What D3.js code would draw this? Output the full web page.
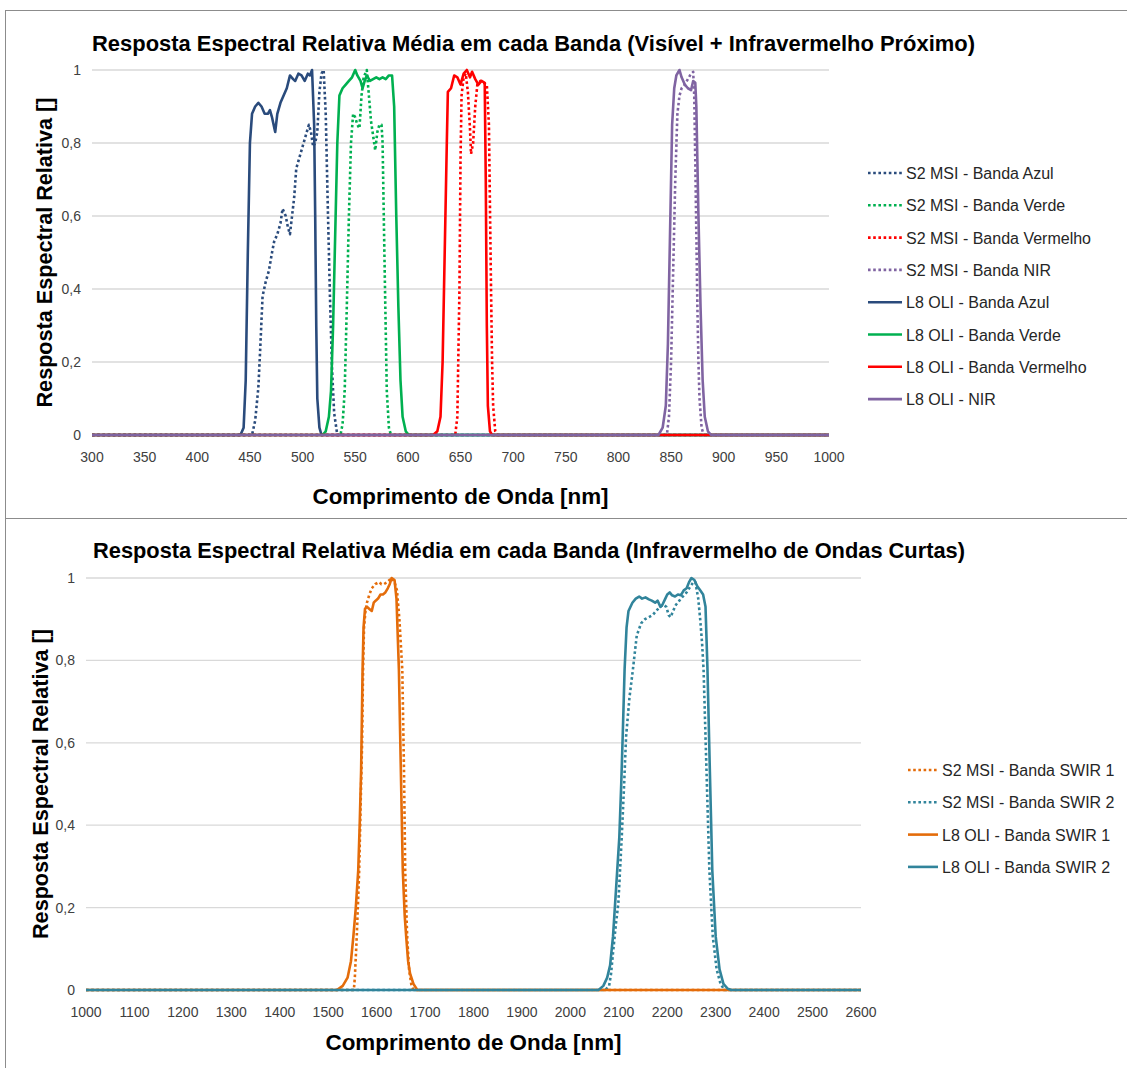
<!DOCTYPE html>
<html>
<head>
<meta charset="utf-8">
<script src="https://cdn.jsdelivr.net/npm/d3@7"></script>
<style>
body { margin: 0; background: #fff; }
text { font-family: "Liberation Sans", Arial, sans-serif; }
</style>
</head>
<body>
<div id="chart-area"></div>
<script>
/*
*    espectro.js - resposta espectral S2 MSI x L8 OLI
*/

// ---- dados: visivel + NIR (nm, resposta)
var s2Azul = [[300,0],[452,0],[455,0.04],[458,0.13],[460,0.25],[462,0.38],[465,0.42],[468,0.45],[471,0.5],[473,0.53],[476,0.55],[479,0.58],[481,0.62],[484,0.6],[486,0.57],[488,0.55],[490,0.6],[492,0.65],[494,0.73],[497,0.76],[500,0.79],[503,0.82],[506,0.85],[508,0.83],[510,0.79],[512,0.8],[514,0.83],[516,0.94],[518,0.99],[520,1.0],[522,0.88],[524,0.62],[526,0.38],[528,0.18],[530,0.06],[533,0],[1000,0]];
var s2Verde = [[300,0],[536,0],[538,0.03],[540,0.12],[542,0.35],[544,0.6],[546,0.8],[548,0.88],[550,0.87],[552,0.85],[554,0.84],[556,0.93],[558,0.98],[561,1.0],[563,0.93],[565,0.86],[567,0.82],[569,0.78],[571,0.83],[573,0.85],[575,0.85],[576,0.8],[578,0.45],[580,0.12],[582,0.02],[584,0],[1000,0]];
var s2Vermelho = [[300,0],[645,0],[647,0.05],[649,0.4],[650,0.75],[651,0.93],[653,0.98],[655,0.99],[657,0.94],[659,0.84],[660,0.77],[662,0.8],[664,0.9],[666,0.96],[669,0.97],[672,0.965],[675,0.96],[677,0.85],[678,0.62],[679,0.4],[680,0.2],[681,0.08],[683,0.01],[685,0],[1000,0]];
var s2Nir = [[300,0],[846,0],[848,0.05],[850,0.2],[852,0.45],[854,0.7],[856,0.88],[858,0.93],[860,0.95],[863,0.96],[865,0.97],[868,0.985],[871,0.995],[872,0.93],[873,0.75],[874,0.55],[875,0.35],[876,0.2],[877,0.1],[879,0.02],[881,0],[1000,0]];
var l8Azul = [[300,0],[441,0],[444,0.02],[446,0.15],[448,0.5],[450,0.8],[452,0.88],[455,0.9],[458,0.91],[461,0.9],[464,0.88],[467,0.88],[469,0.89],[471,0.87],[474,0.83],[476,0.88],[479,0.91],[482,0.93],[485,0.95],[488,0.985],[491,0.975],[493,0.97],[496,0.99],[499,0.985],[502,0.97],[505,0.99],[507,0.985],[509,1.0],[511,0.85],[512,0.6],[513,0.3],[514,0.1],[516,0.02],[518,0],[1000,0]];
var l8Verde = [[300,0],[519,0],[522,0.01],[525,0.05],[527,0.12],[529,0.3],[531,0.55],[533,0.8],[535,0.93],[538,0.95],[541,0.96],[544,0.97],[547,0.98],[550,1.0],[552,0.985],[555,0.97],[557,0.95],[559,0.97],[561,0.985],[564,0.97],[567,0.975],[570,0.98],[573,0.975],[576,0.98],[579,0.975],[582,0.985],[585,0.985],[587,0.9],[589,0.6],[591,0.35],[593,0.15],[595,0.05],[598,0.01],[601,0],[1000,0]];
var l8Vermelho = [[300,0],[624,0],[628,0.01],[631,0.05],[633,0.2],[635,0.5],[637,0.8],[638,0.94],[641,0.95],[644,0.985],[647,0.98],[650,0.96],[653,0.99],[656,1.0],[659,0.98],[661,0.995],[664,0.975],[667,0.96],[670,0.97],[673,0.965],[674,0.7],[675,0.3],[676,0.08],[678,0.01],[680,0],[1000,0]];
var l8Nir = [[300,0],[838,0],[842,0.02],[845,0.08],[847,0.25],[849,0.55],[851,0.85],[853,0.95],[855,0.985],[858,1.0],[860,0.98],[863,0.96],[866,0.95],[869,0.945],[871,0.97],[873,0.965],[874,0.9],[876,0.6],[878,0.35],[880,0.15],[882,0.05],[885,0.01],[888,0],[1000,0]];

// ---- dados: SWIR
var s2Swir1 = [[1000,0],[1553,0],[1555,0.03],[1559,0.13],[1564,0.29],[1567,0.45],[1570,0.6],[1572,0.777],[1574,0.88],[1577,0.92],[1580,0.94],[1585,0.96],[1590,0.975],[1597,0.985],[1605,0.99],[1610,0.985],[1615,0.985],[1622,0.99],[1631,1.0],[1637,0.99],[1642,0.97],[1647,0.9],[1653,0.777],[1656.5,0.534],[1659,0.29],[1663,0.13],[1667,0.05],[1672,0.01],[1676,0],[2600,0]];
var s2Swir2 = [[1000,0],[2072,0],[2080,0.01],[2084,0.04],[2088,0.09],[2094,0.16],[2099,0.21],[2106,0.37],[2111,0.5],[2115,0.615],[2122,0.71],[2129,0.777],[2137,0.86],[2146,0.89],[2154,0.9],[2162,0.905],[2170,0.91],[2177,0.92],[2185,0.93],[2192,0.935],[2198,0.93],[2203,0.91],[2207,0.905],[2212,0.92],[2218,0.935],[2225,0.945],[2232,0.955],[2240,0.965],[2248,0.98],[2254,0.99],[2258,0.99],[2264,0.95],[2268,0.9],[2272,0.84],[2275,0.777],[2281,0.534],[2287,0.29],[2294,0.13],[2302,0.05],[2310,0.015],[2318,0],[2600,0]];
var l8Swir1 = [[1000,0],[1518,0],[1530,0.01],[1540,0.03],[1547,0.07],[1552,0.13],[1557,0.2],[1562,0.29],[1565,0.4],[1568,0.534],[1571,0.777],[1573,0.88],[1576,0.925],[1580,0.93],[1585,0.925],[1590,0.92],[1594,0.94],[1598,0.945],[1603,0.95],[1608,0.96],[1613,0.96],[1618,0.965],[1623,0.975],[1627,0.985],[1631,1.0],[1637,0.995],[1641,0.95],[1643,0.88],[1646,0.777],[1650,0.534],[1654,0.29],[1658,0.18],[1661,0.13],[1665,0.07],[1669,0.04],[1676,0.015],[1684,0],[2600,0]];
var l8Swir2 = [[1000,0],[2058,0],[2068,0.01],[2076,0.03],[2082,0.06],[2088,0.13],[2094,0.24],[2101,0.37],[2105,0.5],[2108,0.615],[2112,0.78],[2116,0.88],[2120,0.92],[2128,0.94],[2135,0.95],[2142,0.955],[2148,0.95],[2155,0.953],[2162,0.948],[2168,0.945],[2175,0.94],[2180,0.945],[2186,0.93],[2190,0.935],[2196,0.95],[2200,0.96],[2205,0.965],[2210,0.958],[2216,0.955],[2222,0.96],[2228,0.958],[2234,0.97],[2240,0.975],[2245,0.99],[2250,1.0],[2256,0.995],[2262,0.98],[2268,0.97],[2274,0.96],[2279,0.93],[2283,0.78],[2288,0.53],[2293,0.29],[2300,0.13],[2308,0.05],[2316,0.015],[2325,0.003],[2332,0],[2600,0]];

// ---- eixos e rotulos
var visTicks = [300,350,400,450,500,550,600,650,700,750,800,850,900,950,1000];
var swirTicks = [1000,1100,1200,1300,1400,1500,1600,1700,1800,1900,2000,2100,2200,2300,2400,2500,2600];
var yTicks = [0, 0.2, 0.4, 0.6, 0.8, 1];
var yTickLabels = ["0", "0,2", "0,4", "0,6", "0,8", "1"];

var visNames = ["S2 MSI - Banda Azul", "S2 MSI - Banda Verde", "S2 MSI - Banda Vermelho", "S2 MSI - Banda NIR",
	"L8 OLI - Banda Azul", "L8 OLI - Banda Verde", "L8 OLI - Banda Vermelho", "L8 OLI - NIR"];
var swirNames = ["S2 MSI - Banda SWIR 1", "S2 MSI - Banda SWIR 2", "L8 OLI - Banda SWIR 1", "L8 OLI - Banda SWIR 2"];

var visTitle = "Resposta Espectral Relativa Média em cada Banda (Visível + Infravermelho Próximo)";
var swirTitle = "Resposta Espectral Relativa Média em cada Banda (Infravermelho de Ondas Curtas)";
var xTitle = "Comprimento de Onda [nm]";
var yTitle = "Resposta Espectral Relativa []";

var azul = "#2a4b7c", verde = "#00b050", vermelho = "#ff0000", roxo = "#8064a2";
var laranja = "#e46c0a", petroleo = "#31849b";

var svg = d3.select("#chart-area").append("svg").attr("width", 1127).attr("height", 1068);

// molduras
svg.append("rect").attr("x", 5.5).attr("y", 10.5).attr("width", 1130).attr("height", 508)
	.attr("fill", "none").attr("stroke", "#8c8c8c");
svg.append("rect").attr("x", 5.5).attr("y", 518.5).attr("width", 1130).attr("height", 560)
	.attr("fill", "none").attr("stroke", "#8c8c8c");

drawPanel({
	left: 92, right: 829, top: 70, bottom: 435,
	domain: [300, 1000], ticks: visTicks,
	title: visTitle, titleX: 92, titleY: 51, titleLen: 883,
	yTitleX: 52, xTitleY: 504, tickLabelY: 462, yLabelX: 81,
	series: [
		{ data: s2Azul, color: azul, dotted: true },
		{ data: s2Verde, color: verde, dotted: true },
		{ data: s2Vermelho, color: vermelho, dotted: true },
		{ data: s2Nir, color: roxo, dotted: true },
		{ data: l8Azul, color: azul, dotted: false },
		{ data: l8Verde, color: verde, dotted: false },
		{ data: l8Vermelho, color: vermelho, dotted: false },
		{ data: l8Nir, color: roxo, dotted: false }
	],
	names: visNames, legX: 868, legLine: 34, legY: 173
});

drawPanel({
	left: 86, right: 861, top: 578, bottom: 990,
	domain: [1000, 2600], ticks: swirTicks,
	title: swirTitle, titleX: 93, titleY: 558, titleLen: 872,
	yTitleX: 48, xTitleY: 1050, tickLabelY: 1017, yLabelX: 75,
	series: [
		{ data: s2Swir1, color: laranja, dotted: true },
		{ data: s2Swir2, color: petroleo, dotted: true },
		{ data: l8Swir1, color: laranja, dotted: false },
		{ data: l8Swir2, color: petroleo, dotted: false }
	],
	names: swirNames, legX: 908, legLine: 30, legY: 770
});

function drawPanel(p) {
	var x = d3.scaleLinear().domain(p.domain).range([p.left, p.right]);
	var y = d3.scaleLinear().domain([0, 1]).range([p.bottom, p.top]);
	var g = svg.append("g");

	// grade horizontal
	g.selectAll(".grid").data(yTicks).enter().append("line")
		.attr("x1", p.left).attr("x2", p.right)
		.attr("y1", (d) => { return y(d); }).attr("y2", (d) => { return y(d); })
		.attr("stroke", "#d9d9d9").attr("stroke-width", 1.3);

	// rotulos do eixo y
	g.selectAll(".ylab").data(yTicks).enter().append("text")
		.attr("x", p.yLabelX).attr("y", (d) => { return y(d) + 5; })
		.attr("text-anchor", "end").attr("font-size", "14px").attr("fill", "#404040")
		.text((d, i) => { return yTickLabels[i]; });

	// rotulos do eixo x
	g.selectAll(".xlab").data(p.ticks).enter().append("text")
		.attr("x", (d) => { return x(d); }).attr("y", p.tickLabelY)
		.attr("text-anchor", "middle").attr("font-size", "14px").attr("fill", "#404040")
		.text((d) => { return d; });

	// curvas
	var line = d3.line().x((d) => { return x(d[0]); }).y((d) => { return y(d[1]); });
	g.selectAll(".serie").data(p.series).enter().append("path")
		.attr("d", (d) => { return line(d.data); })
		.attr("fill", "none")
		.attr("stroke", (d) => { return d.color; })
		.attr("stroke-width", 2.6)
		.attr("stroke-linejoin", "round")
		.attr("stroke-dasharray", (d) => { return d.dotted ? "2.6,2.6" : null; });

	// titulos
	g.append("text").attr("x", p.titleX).attr("y", p.titleY)
		.attr("font-size", "22px").attr("font-weight", "bold").attr("fill", "#000")
		.attr("textLength", p.titleLen).attr("lengthAdjust", "spacingAndGlyphs")
		.text(p.title);

	g.append("text").attr("x", (p.left + p.right) / 2).attr("y", p.xTitleY)
		.attr("text-anchor", "middle").attr("font-size", "22px").attr("font-weight", "bold")
		.attr("textLength", 296).attr("lengthAdjust", "spacingAndGlyphs")
		.text(xTitle);

	g.append("text").attr("transform", "translate(" + p.yTitleX + "," + (p.top + p.bottom) / 2 + ") rotate(-90)")
		.attr("text-anchor", "middle").attr("font-size", "22px").attr("font-weight", "bold")
		.attr("textLength", 310).attr("lengthAdjust", "spacingAndGlyphs")
		.text(yTitle);

	// legenda
	var leg = g.append("g");
	p.series.forEach((s, i) => {
		var row = leg.append("g").attr("transform", "translate(" + p.legX + "," + (p.legY + i * 32.3) + ")");
		row.append("line").attr("x1", 0).attr("x2", p.legLine).attr("y1", 0).attr("y2", 0)
			.attr("stroke", s.color).attr("stroke-width", 2.6)
			.attr("stroke-dasharray", s.dotted ? "2.6,2.6" : null);
		row.append("text").attr("x", p.legLine + 4).attr("y", 6)
			.attr("font-size", "16px").attr("fill", "#262626").text(p.names[i]);
	});
}
</script>
</body>
</html>
